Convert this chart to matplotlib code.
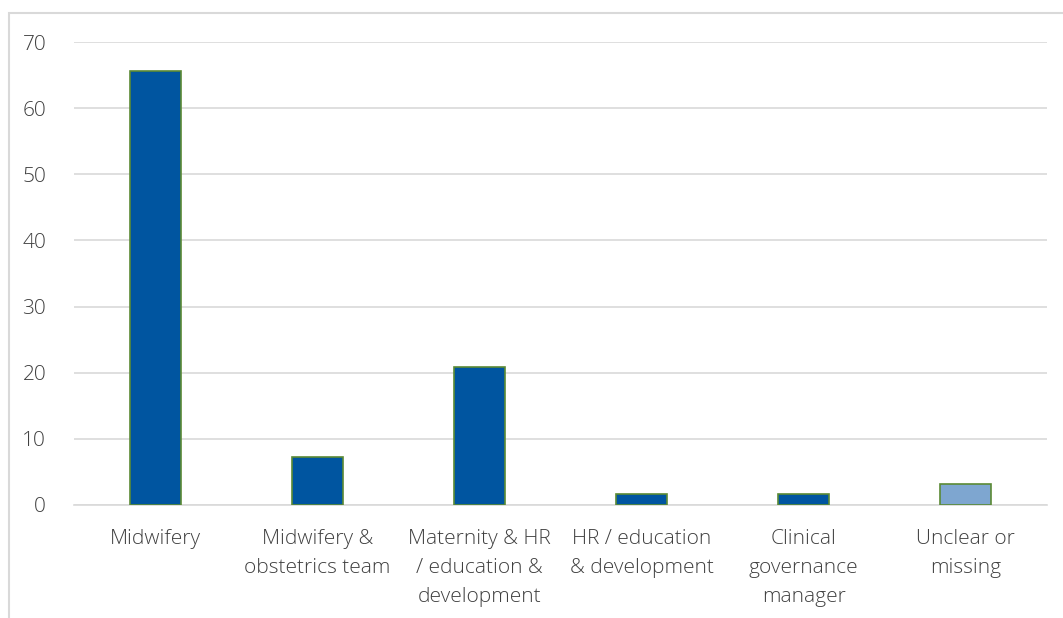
import matplotlib.pyplot as plt
from matplotlib.patches import Rectangle

categories = [
    "Midwifery",
    "Midwifery &\nobstetrics team",
    "Maternity & HR\n/ education &\ndevelopment",
    "HR / education\n& development",
    "Clinical\ngovernance\nmanager",
    "Unclear or\nmissing",
]
percent = [65.6, 7.2, 20.8, 1.6, 1.6, 3.2]
bar_colors = ["#0055A0"] * 5 + ["#7EA6D0"]
y_ticks = [0, 10, 20, 30, 40, 50, 60, 70]

plt.rcParams["font.family"] = ["Open Sans", "DejaVu Sans"]

fig = plt.figure(figsize=(10.63, 6.18), dpi=100)
ax = fig.add_axes([74 / 1063, 113 / 618, 973 / 1063, 463 / 618])

# outer chart frame, cut off at the right and bottom
fig.patches.append(Rectangle((9 / 1063, -0.1), 1.2, 1.1 - 13 / 618,
                             transform=fig.transFigure, fill=False,
                             edgecolor="#D9D9D9", linewidth=1.5))

x = range(len(categories))
ax.bar(x, percent, width=0.315, color=bar_colors, edgecolor="#5B8A35",
       linewidth=1.2, zorder=3)

ax.set_xlim(-0.5, len(categories) - 0.5)
ax.set_ylim(0, 70)
ax.set_yticks(y_ticks)
ax.set_xticks(list(x))
ax.set_xticklabels(categories, linespacing=1.6)
ax.tick_params(axis="x", length=0, pad=17, labelsize=15, labelcolor="#404040")
ax.tick_params(axis="y", length=0, pad=20, labelsize=15, labelcolor="#404040")
for lbl in ax.get_xticklabels() + ax.get_yticklabels():
    lbl.set_fontweight("light")

ax.grid(axis="y", color="#D9D9D9", linewidth=1.2, zorder=0)
for side in ["top", "right", "left"]:
    ax.spines[side].set_visible(False)
ax.spines["bottom"].set_color("#D9D9D9")
ax.spines["bottom"].set_linewidth(1.2)

plt.savefig("out.png", dpi=100)
